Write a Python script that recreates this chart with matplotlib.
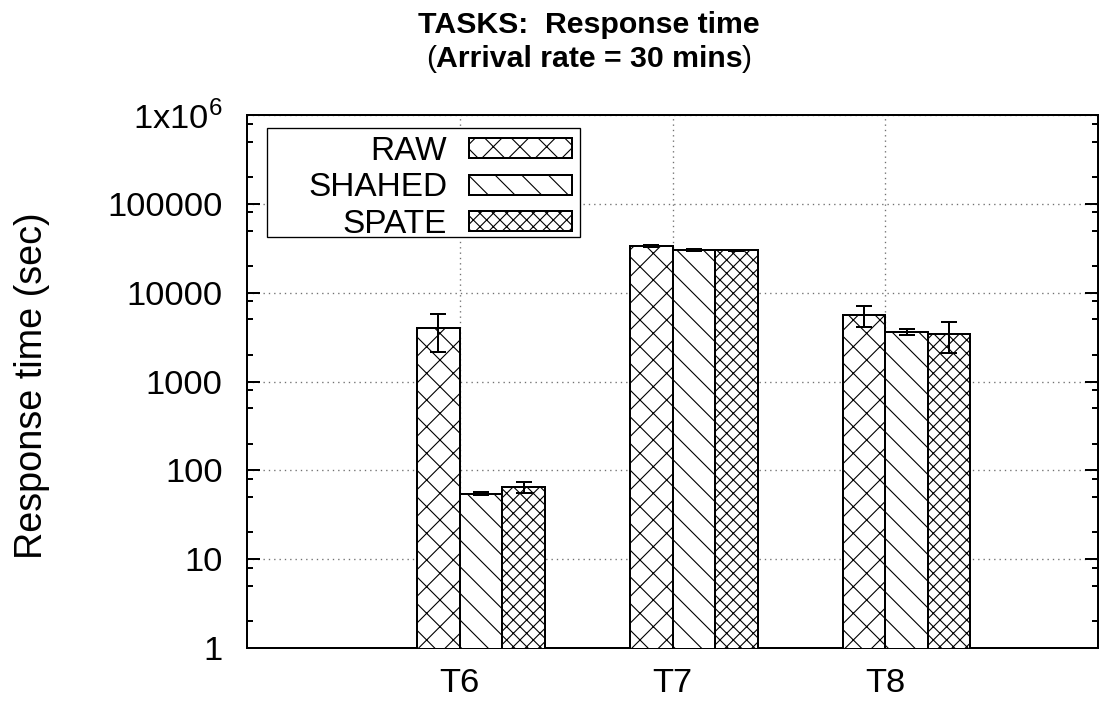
import matplotlib
matplotlib.use("Agg")
import matplotlib.pyplot as plt
import numpy as np
from matplotlib.patches import Rectangle
from matplotlib.ticker import FixedLocator, LogLocator, NullFormatter

tasks = ["T6", "T7", "T8"]
series = ["RAW", "SHAHED", "SPATE"]
raw = [3970, 33700, 5610]
shahed = [54.7, 30400, 3650]
spate = [65, 30000, 3400]
raw_err = [1800, 1000, 1500]
shahed_err = [2.5, 800, 300]
spate_err = [9, 600, 1300]
ytick_labels = ["1", "10", "100", "1000", "10000", "100000", r"1x10$^6$"]

plt.rcParams["font.family"] = ["Liberation Sans", "DejaVu Sans"]
plt.rcParams["mathtext.fontset"] = "custom"
plt.rcParams["mathtext.rm"] = "Liberation Sans"
plt.rcParams["hatch.linewidth"] = 0.5

W, H, DPI = 1100, 702, 160
fig = plt.figure(figsize=(W / DPI, H / DPI), dpi=DPI)
ax = fig.add_axes([247 / W, 54 / H, 851 / W, 533 / H])

# matplotlib hatch spacing is twice gnuplot's for one symbol, so double them
hatches = ["xx", "\\\\", "xxxx"]
width = 0.2
x = np.arange(len(tasks))
values = [raw, shahed, spate]
errors = [raw_err, shahed_err, spate_err]
for j, (vals, errs) in enumerate(zip(values, errors)):
    pos = x + (j - 1) * width
    ax.bar(pos, vals, width, facecolor="white", edgecolor="black",
           linewidth=0.9, hatch=hatches[j], zorder=3)
    ax.errorbar(pos, vals, yerr=errs, fmt="none", ecolor="black",
                elinewidth=0.9, capsize=3.4, capthick=0.9, zorder=4)

ax.set_yscale("log")
ax.set_ylim(1, 1e6)
ax.set_xlim(-1.1, 2.9)
ax.yaxis.set_major_locator(FixedLocator([10.0 ** k for k in range(7)]))
ax.set_yticklabels(ytick_labels)
ax.yaxis.set_minor_locator(LogLocator(base=10, subs=(2, 5, 8)))
ax.yaxis.set_minor_formatter(NullFormatter())
ax.set_xticks(x - width / 2)
ax.set_xticklabels(tasks)

ax.tick_params(axis="y", which="both", direction="in", left=True, right=True,
               labelsize=15.5, pad=11, width=0.9)
ax.tick_params(axis="y", which="major", length=5.8)
ax.tick_params(axis="y", which="minor", length=2.8)
ax.tick_params(axis="x", length=0, labelsize=15.5, pad=9)
for s in ax.spines.values():
    s.set_linewidth(0.9)

ax.grid(True, which="major", color="#707070", linestyle=(0, (1, 3)),
        linewidth=0.6, zorder=0)
ax.set_axisbelow(True)

ax.set_ylabel("Response time (sec)", fontsize=17)
ax.yaxis.set_label_coords(-0.232, 0.493)

# legend entries without frame; the gnuplot-style box is drawn separately
handles = [Rectangle((0, 0), 1, 1, facecolor="white", edgecolor="black",
                     linewidth=0.9, hatch=h) for h in hatches]
leg = ax.legend(handles, series, loc="upper right", bbox_to_anchor=(0.382, 0.9606),
                markerfirst=False, fontsize=15, frameon=False,
                handlelength=3.1, handleheight=0.55, labelspacing=0.16,
                handletextpad=0.65, borderpad=0, borderaxespad=0)
leg.set_zorder(6)
ax.add_patch(Rectangle((0.0235, 0.7711), 0.3678, 0.2045, transform=ax.transAxes,
                       facecolor="white", edgecolor="black", linewidth=0.6,
                       zorder=5))

# title: bold text with plain parentheses on the second line
cx = 589 / W
fig.text(cx, 1 - 33 / H, "TASKS:  Response time", fontsize=13.6,
         weight="bold", ha="center", va="baseline")
mid = fig.text(cx, 1 - 67 / H, "Arrival rate = 30 mins", fontsize=13.6,
               weight="bold", ha="center", va="baseline")
fig.canvas.draw()
bb = mid.get_window_extent(fig.canvas.get_renderer())
inv = fig.transFigure.inverted()
x0 = inv.transform((bb.x0, 0))[0]
x1 = inv.transform((bb.x1, 0))[0]
fig.text(x0, 1 - 67 / H, "(", fontsize=13.6, ha="right", va="baseline")
fig.text(x1, 1 - 67 / H, ")", fontsize=13.6, ha="left", va="baseline")

fig.savefig("out.png", dpi=DPI)
